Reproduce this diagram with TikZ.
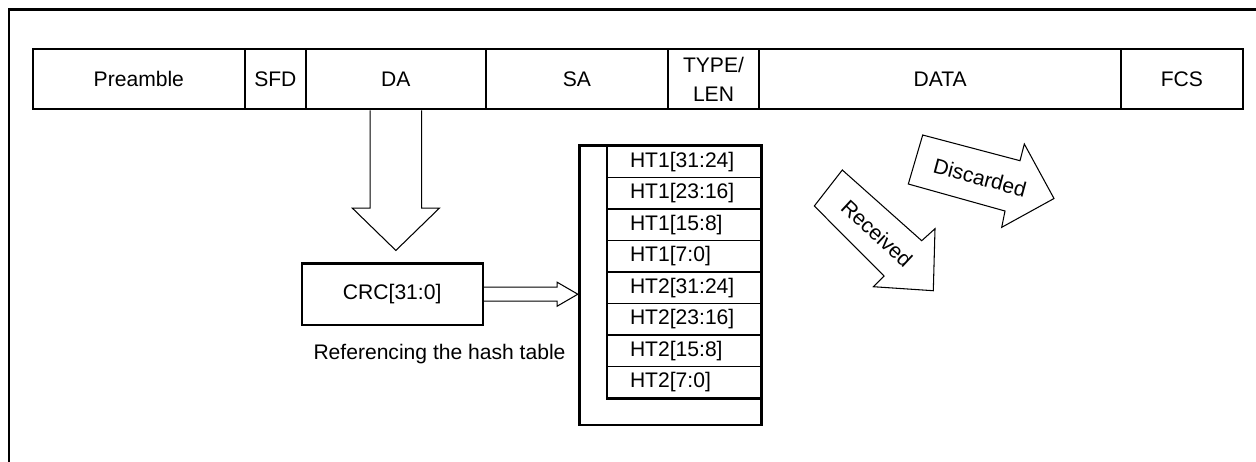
\documentclass[tikz,border=0pt]{standalone}
\usepackage{fontspec}
\setmainfont{Liberation Sans}
\usetikzlibrary{calc}

\tikzset{
  field/.style={draw,line width=1.3pt,minimum height=1.2cm,inner sep=0pt,align=center},
  hollow/.style={draw=black,line width=0.6pt,line join=miter},
  rowbox/.style={draw,line width=0.6pt,minimum height=0.63cm,text width=2.174cm,
    inner xsep=0.446cm,inner ysep=0pt,align=left},
}

\begin{document}
\begin{tikzpicture}[x=0.02cm,y=-0.02cm,font=\fontsize{12}{16.5}\selectfont]
  \useasboundingbox (0,0) rectangle (1256,461);
  \draw[line width=1.3pt] (1262,9.5) -- (9,9.5) -- (9,466);
  % frame fields
  \foreach \l/\r/\name/\txt in {32.7/245/pre/Preamble, 245/305.7/sfd/SFD,
      305.7/486/da/DA, 486/667.7/sa/SA, 667.7/759.3/typ/{TYPE/\\LEN},
      759.3/1121/data/DATA, 1121/1242.7/fcs/FCS}
    \node[field,minimum width={(\r-\l)*0.02cm}] (\name) at ({(\l+\r)/2},79.3) {\txt};
  % DA -> CRC
  \node[draw,line width=1.3pt,minimum width=3.62cm,minimum height=1.234cm] (crc)
    at (392.2,294.2) {CRC[31:0]};
  \draw[hollow] ($(da.south)+(-25.8,0)$) -- ++(0,97.7) -- ++(-17.7,0)
    -- ($(da.south)+(0,140)$) -- ++(43.5,-42.3) -- ++(-17.7,0) -- ++(0,-97.7);
  \node (refer) at (439.5,354.5) {Referencing the hash table};
  % hash table
  \foreach \lbl [count=\i] in {HT1[31:24],HT1[23:16],HT1[15:8],HT1[7:0],
      HT2[31:24],HT2[23:16],HT2[15:8],HT2[7:0]}
    \node[rowbox] (ht\i) at (684.35,{146+31.5*(\i-0.5)}) {\lbl};
  \draw[line width=1.3pt] (ht1.north west) rectangle (ht8.south east);
  \draw[line width=1.3pt] ($(ht1.north west)+(-27.7,0)$) rectangle ($(ht8.south east)+(0,26.7)$);
  \draw[hollow] ($(crc.east)+(0,-7)$) -- ++(73.3,0) -- ++(0,-5)
    -- ($(crc.east)+(94,0)$) -- ++(-20.7,12) -- ++(0,-5) -- ($(crc.east)+(0,7)$);
  % result arrows
  \draw[hollow] (814.3,206) -- (842.3,170) -- (921.7,240.7) -- (935,228.7)
    -- (933.3,290.7) -- (873.3,286.7) -- (884,276) -- cycle;
  \node[rotate=-43] (recv) at (877,233.5) {Received};
  \draw[hollow] (922.7,135) -- (1020,160.7) -- (1024.3,144) -- (1054,198.5)
    -- (1001.7,227.3) -- (1005,211) -- (908.3,184) -- cycle;
  \node[rotate=-15] (disc) at (980,177.5) {Discarded};
\end{tikzpicture}
\end{document}
